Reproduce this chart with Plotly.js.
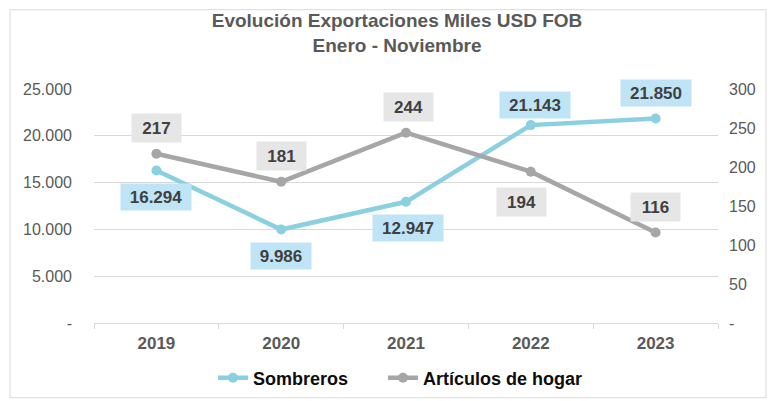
<!DOCTYPE html>
<html><head><meta charset="utf-8">
<script src="https://cdn.plot.ly/plotly-3.0.1.min.js"></script>
<style>html,body{margin:0;padding:0;background:#fff}#chart{width:772px;height:401px}</style>
</head><body><div id="chart"></div>
<script>
const years = ['2019','2020','2021','2022','2023'];
const sombreros = [16294, 9986, 12947, 21143, 21850];
const hogar = [217, 181, 244, 194, 116];
const leftTicks = [0, 5000, 10000, 15000, 20000, 25000];
const leftTickText = ['-', '5.000', '10.000', '15.000', '20.000', '25.000'];
const rightTicks = [0, 50, 100, 150, 200, 250, 300];
const rightTickText = ['-', '50', '100', '150', '200', '250', '300'];
const sombrerosLabels = ['16.294', '9.986', '12.947', '21.143', '21.850'];
const hogarLabels = ['217', '181', '244', '194', '116'];

const blue = '#8ad0e0', blueBox = '#bfe4f5';
const grey = '#a6a6a6', greyBox = '#e7e6e6';
const sombShift = [[0,-27],[0,-26],[2,-26],[4,20],[0,25]];
const hogShift = [[0,26],[0,26],[2,26],[-9,-30],[0,26]];

const traces = [
  {x: years, y: sombreros, name: 'Sombreros', type: 'scatter', mode: 'lines+markers',
   line: {color: blue, width: 4.5}, marker: {color: blue, size: 10}, yaxis: 'y', legend: 'legend'},
  {x: years, y: hogar, name: 'Artículos de hogar', type: 'scatter', mode: 'lines+markers',
   line: {color: grey, width: 4.5}, marker: {color: grey, size: 10}, yaxis: 'y2', legend: 'legend2'}
];

const annotations = [];
for (let i = 0; i < years.length; i++) {
  annotations.push({x: i, y: sombreros[i], xref: 'x', yref: 'y', text: '<b>' + sombrerosLabels[i] + '</b>',
    showarrow: false, xshift: sombShift[i][0], yshift: sombShift[i][1], bgcolor: blueBox,
    width: sombrerosLabels[i].length * 10 + 8, height: 24,
    font: {family: 'Liberation Sans, Arial', size: 17, color: '#404040'}});
  annotations.push({x: i, y: hogar[i], xref: 'x', yref: 'y2', text: '<b>' + hogarLabels[i] + '</b>',
    showarrow: false, xshift: hogShift[i][0], yshift: hogShift[i][1], bgcolor: greyBox,
    width: 47, height: 26,
    font: {family: 'Liberation Sans, Arial', size: 17, color: '#404040'}});
}

const legendBase = {orientation: 'h', xref: 'container', xanchor: 'left',
  yref: 'container', y: (401-378)/401, yanchor: 'middle',
  font: {size: 18, color: '#0d0d0d', weight: 'bold'}, itemwidth: 30};

const layout = {
  width: 772, height: 401,
  margin: {l: 94, r: 54, t: 89, b: 78},
  paper_bgcolor: '#fff', plot_bgcolor: '#fff',
  separators: ',.',
  font: {family: 'Liberation Sans, Arial', color: '#595959'},
  title: {text: '<b>Evolución Exportaciones Miles USD FOB<br>Enero - Noviembre</b>',
    x: 397/772, xanchor: 'center', xref: 'container', y: (401-27)/401, yanchor: 'middle', yref: 'container',
    font: {size: 19, color: '#595959', family: 'Liberation Sans, Arial'}},
  xaxis: {type: 'category', range: [-0.5, 4.5], showgrid: false, showline: true, linecolor: '#d9d9d9',
    linewidth: 1, ticks: 'outside', tickson: 'boundaries', ticklen: 5, tickcolor: '#d9d9d9',
    tickfont: {size: 17, color: '#595959', weight: 'bold'}, ticklabelstandoff: 5, fixedrange: true},
  yaxis: {range: [0, 25000], tickvals: leftTicks, ticktext: leftTickText, showgrid: true,
    gridcolor: '#d9d9d9', gridwidth: 1, zeroline: false, showline: false, ticks: '',
    tickfont: {size: 16, color: '#595959'}, ticklabelstandoff: 21},
  yaxis2: {range: [0, 300], tickvals: rightTicks, ticktext: rightTickText, overlaying: 'y', side: 'right',
    showgrid: false, zeroline: false, showline: false, ticks: '',
    tickfont: {size: 16, color: '#595959'}, ticklabelstandoff: 10},
  showlegend: true,
  legend: Object.assign({}, legendBase, {x: 213/772}),
  legend2: Object.assign({}, legendBase, {x: 383/772}),
  annotations: annotations,
  shapes: [{type: 'rect', xref: 'paper', yref: 'paper', x0: (10-94)/624, x1: (766-94)/624,
    y0: (323.3-398)/234, y1: (323.3-10)/234, line: {color: '#d9d9d9', width: 1}, layer: 'below'}]
};
Plotly.newPlot('chart', traces, layout, {displayModeBar: false, staticPlot: true});
</script></body></html>
